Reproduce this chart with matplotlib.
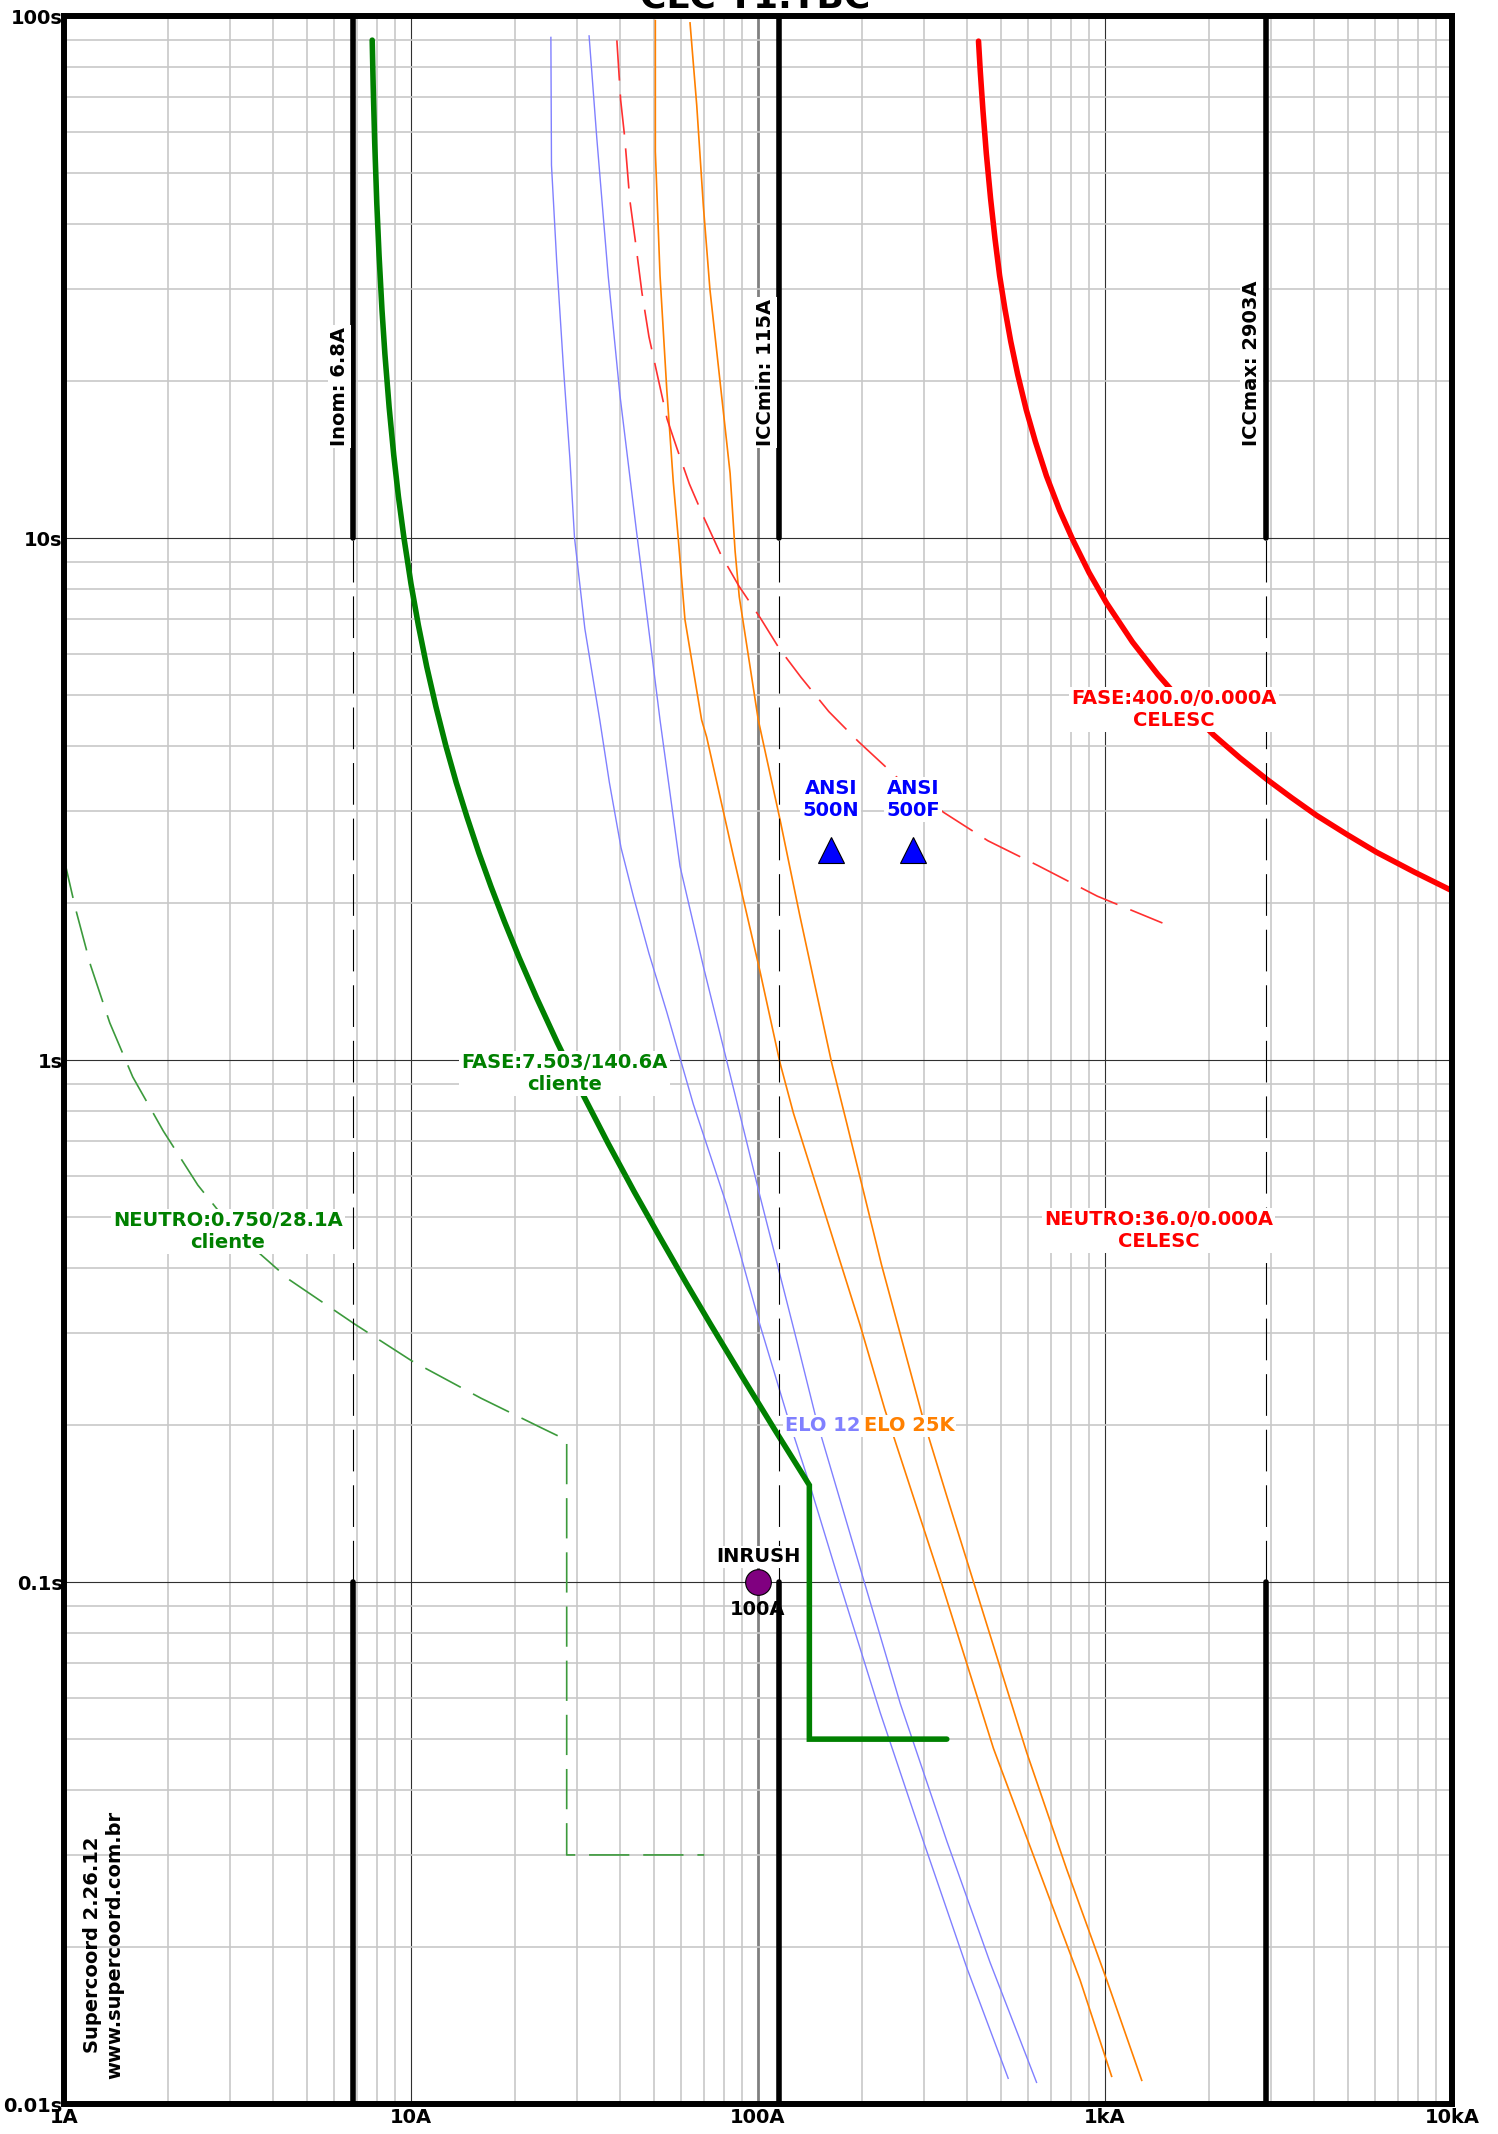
import matplotlib.pyplot as plt
import numpy as np
from matplotlib.ticker import LogLocator, NullFormatter

plt.rcParams['font.family'] = ['DejaVu Sans']
plt.rcParams['font.weight'] = 'bold'
plt.rcParams['lines.scale_dashes'] = False

# Relé do cliente - fase (7.503 A / instantâneo 140.6 A)
fase_cli_I = [7.73, 7.78, 7.86, 7.97, 8.09, 8.25, 8.41, 8.65, 8.92, 9.2, 9.55, 10.0, 10.5,
              11.1, 11.8, 12.6, 13.5, 14.5, 15.7, 17.0, 18.6, 20.5, 23.0, 26.4, 31.0, 37.0,
              44.0, 52.2, 62.0, 73.0, 90, 112, 140.6, 140.6, 350]
fase_cli_t = [89.9, 73.7, 57.2, 43.7, 34.8, 27.3, 22.5, 17.8, 14.4, 12.0, 9.97, 8.17, 6.81,
              5.67, 4.75, 4.00, 3.40, 2.92, 2.49, 2.15, 1.84, 1.57, 1.317, 1.08, 0.869, 0.692,
              0.559, 0.457, 0.3745, 0.3116, 0.2474, 0.1953, 0.1533, 0.05, 0.05]

# Relé do cliente - neutro (0.750 A / instantâneo 28.1 A)
neu_cli_I = [1.0, 1.078, 1.193, 1.355, 1.578, 1.933, 2.43, 3.13, 4.47, 6.88, 10.07,
             15.9, 23.9, 28.1, 28.1, 70]
neu_cli_t = [2.43, 1.956, 1.518, 1.178, 0.928, 0.731, 0.576, 0.467, 0.379, 0.312, 0.265,
             0.225, 0.197, 0.187, 0.03, 0.03]

# CELESC - fase (400 A)
fase_cel_I = [432, 437, 445, 455, 468, 482, 497, 515, 535, 560, 593, 630, 678, 740, 810,
              900, 1011, 1200, 1422, 1700, 2051, 2450, 2925, 3450, 4075, 5000, 6065, 7800, 10000]
fase_cel_t = [89.5, 78.5, 65.8, 54.5, 44.7, 37.4, 31.8, 27.4, 23.8, 20.6, 17.6, 15.3, 13.15, 11.3, 9.88,
              8.58, 7.5, 6.32, 5.47, 4.78, 4.2, 3.79, 3.45, 3.18, 2.94, 2.70, 2.50, 2.29, 2.11]

# CELESC - neutro (36 A)
neu_cel_I = [39.2, 40.2, 41.3, 42.7, 44.4, 46.3, 48.5, 51.3, 54.7, 58.5, 63.4, 70, 78.0,
             88, 101.8, 115, 133, 160, 195, 255, 343, 460, 639, 950, 1464]
neu_cel_t = [89.8, 69, 58.5, 44.5, 36.7, 29.5, 24.3, 20.5, 16.9, 14.8, 12.7, 10.9, 9.32,
             8.1, 7.01, 6.15, 5.41, 4.65, 4.07, 3.45, 2.98, 2.63, 2.36, 2.06, 1.83]

# Elo fusível 12K (mínima fusão e interrupção total)
elo12_min_I = [25.3, 25.4, 26.3, 27.5, 28.7, 29.6, 31.7, 35.0, 37.3, 40.3, 43.8, 48.5,
               54.6, 65.1, 81.3, 101.3, 121, 141, 172, 225, 300, 399, 526]
elo12_min_t = [91, 51.8, 33.8, 21.2, 14.2, 10.0, 6.7, 4.48, 3.4, 2.55, 2.05, 1.6,
               1.235, 0.823, 0.527, 0.311, 0.21, 0.1535, 0.0995, 0.0562, 0.0318, 0.0183, 0.0112]
elo12_max_I = [32.6, 34.3, 37.0, 40.0, 44.7, 52.2, 59.6, 69.6, 81.2, 101.3, 129.8, 147.5,
               201, 257, 350, 466, 635]
elo12_max_t = [91.6, 58.5, 31.8, 18.8, 10.24, 4.48, 2.35, 1.51, 0.998, 0.549, 0.287, 0.204,
               0.1016, 0.0585, 0.0319, 0.0187, 0.011]

# Elo fusível 25K
elo25_min_I = [50.6, 50.6, 52.2, 54.6, 57.0, 58.9, 61.6, 68.8, 71.1, 84.9, 101.3, 115.7,
               126.5, 157.8, 196.8, 232, 268, 338, 477, 679, 847, 1045]
elo25_min_t = [98, 55, 31.8, 19.2, 12.8, 10.0, 6.97, 4.48, 4.16, 2.46, 1.48, 0.988,
               0.791, 0.496, 0.311, 0.214, 0.1596, 0.0995, 0.048, 0.0256, 0.0173, 0.0113]
elo25_max_I = [63.7, 66.6, 69.6, 72.7, 77.7, 83.1, 85.9, 88.3, 100.2, 115.7, 132, 163,
               180, 227, 300, 350, 418, 595, 775, 1011, 1276]
elo25_max_t = [97, 67.4, 43.2, 29.9, 20.0, 13.3, 9.44, 7.72, 4.48, 2.89, 1.89, 0.988,
               0.759, 0.405, 0.204, 0.146, 0.1, 0.0471, 0.0282, 0.0173, 0.0111]

# Correntes de referência
ref_nomes = ["Inom: 6.8A", "ICCmin: 115A", "ICCmax: 2903A"]
ref_correntes = [6.8, 115, 2903]

# Pontos ANSI 50
ansi_nomes = ["ANSI\n500N", "ANSI\n500F"]
ansi_correntes = [162, 280]
ansi_tempos = [2.52, 2.52]

# Ponto de inrush
inrush_corrente = 100
inrush_tempo = 0.1

x_ticks = [1, 10, 100, 1000, 10000]
x_labels = ["1A", "10A", "100A", "1kA", "10kA"]
y_ticks = [0.01, 0.1, 1, 10, 100]
y_labels = ["0.01s", "0.1s", "1s", "10s", "100s"]

fig = plt.figure(figsize=(14.98, 21.34), dpi=100)
ax = fig.add_axes([64 / 1498, 30 / 2134, 1388 / 1498, 2088 / 2134])
ax.set_xscale('log')
ax.set_yscale('log')
ax.set_xlim(1, 10000)
ax.set_ylim(0.01, 100)

# Grade logarítmica
ax.set_xticks(x_ticks, x_labels)
ax.set_yticks(y_ticks, y_labels)
ax.xaxis.set_minor_locator(LogLocator(base=10, subs=np.arange(2, 10)))
ax.yaxis.set_minor_locator(LogLocator(base=10, subs=np.arange(2, 10)))
ax.xaxis.set_minor_formatter(NullFormatter())
ax.yaxis.set_minor_formatter(NullFormatter())
ax.grid(which='minor', color='#c8c8c8', lw=1.2)
ax.grid(which='major', color='#303030', lw=0.8)
ax.get_xgridlines()[2].set_color('#808080')
ax.get_xgridlines()[2].set_linewidth(2)
ax.set_axisbelow(True)
ax.tick_params(which='both', length=0)
ax.tick_params(axis='x', labelsize=14, pad=3)
ax.tick_params(axis='y', labelsize=14, pad=1)
for lab in ax.get_xticklabels() + ax.get_yticklabels():
    lab.set_fontweight('bold')
for s in ax.spines.values():
    s.set_linewidth(4.3)
    s.set_zorder(10)

caixa = dict(boxstyle='square,pad=0.1', fc='white', ec='none')

# Linhas de referência: cheias fora da faixa 0.1s-10s, tracejadas dentro
for I, nome in zip(ref_correntes, ref_nomes):
    ax.plot([I, I], [10, 100], color='black', lw=4, solid_capstyle='round', zorder=4)
    ax.plot([I, I], [0.01, 0.1], color='black', lw=4, solid_capstyle='round', zorder=4)
    ax.plot([I, I], [0.1, 10], color='black', lw=0.8, dashes=(30, 10), zorder=4)
    ax.annotate(nome, (I, 15), xytext=(-3, 0), textcoords='offset points', rotation=90,
                ha='right', va='bottom', fontsize=14, fontweight='bold', bbox=caixa, zorder=6)

# Elos fusíveis
ax.plot(elo12_min_I, elo12_min_t, color='#8080ff', lw=1.0, zorder=3)
ax.plot(elo12_max_I, elo12_max_t, color='#8080ff', lw=1.0, zorder=3)
ax.plot(elo25_min_I, elo25_min_t, color='#ff8000', lw=1.2, zorder=3)
ax.plot(elo25_max_I, elo25_max_t, color='#ff8000', lw=1.2, zorder=3)

# Curvas CELESC
ax.plot(fase_cel_I, fase_cel_t, color='red', lw=4, solid_capstyle='round', zorder=3)
ax.plot(neu_cel_I, neu_cel_t, color='#ff3030', lw=1.2, dashes=(29, 10), zorder=3)

# Curvas do cliente
ax.plot(fase_cli_I, fase_cli_t, color='#008000', lw=4, solid_capstyle='round',
        solid_joinstyle='miter', zorder=3)
ax.plot(neu_cli_I, neu_cli_t, color='#3c9a3c', lw=1.2, dashes=(29, 10), zorder=3)

# Pontos ANSI
ax.plot(ansi_correntes, ansi_tempos, '^', ms=18.5, mfc='blue', mec='black', mew=0.8,
        ls='none', zorder=5)
for I, t, nome in zip(ansi_correntes, ansi_tempos, ansi_nomes):
    ax.annotate(nome, (I, t), xytext=(0, 37), textcoords='offset points', ha='center',
                va='center', color='blue', fontsize=14, fontweight='bold', bbox=caixa, zorder=6)

# Inrush
ax.plot([inrush_corrente], [inrush_tempo], 'o', ms=18.5, mfc='purple', mec='black',
        mew=0.8, zorder=5)
ax.annotate("INRUSH", (inrush_corrente, inrush_tempo), xytext=(0, 18),
            textcoords='offset points', ha='center', va='center', fontsize=14,
            fontweight='bold', bbox=caixa, zorder=6)
ax.annotate(f"{inrush_corrente}A", (inrush_corrente, inrush_tempo), xytext=(0, -20),
            textcoords='offset points', ha='center', va='center', fontsize=14,
            fontweight='bold', zorder=6)

# Rótulos das curvas
ax.text(27.7, 0.942, "FASE:7.503/140.6A\ncliente", color='#008000', ha='center',
        va='center', fontsize=14, fontweight='bold', bbox=caixa, zorder=6)
ax.text(2.97, 0.470, "NEUTRO:0.750/28.1A\ncliente", color='#008000', ha='center',
        va='center', fontsize=14, fontweight='bold', bbox=caixa, zorder=6)
ax.text(1580, 4.69, "FASE:400.0/0.000A\nCELESC", color='red', ha='center',
        va='center', fontsize=14, fontweight='bold', bbox=caixa, zorder=6)
ax.text(1430, 0.4715, "NEUTRO:36.0/0.000A\nCELESC", color='red', ha='center',
        va='center', fontsize=14, fontweight='bold', bbox=caixa, zorder=6)
ax.text(119.6, 0.199, "ELO 12K", color='#8080ff', ha='left', va='center',
        fontsize=14, fontweight='bold', bbox=caixa, zorder=6)
ax.text(202, 0.199, "ELO 25K", color='#ff8000', ha='left', va='center',
        fontsize=14, fontweight='bold', bbox=caixa, zorder=7)

# Assinatura do programa
ax.text(0.0288, 0.0761, "Supercoord 2.26.12\nwww.supercoord.com.br", transform=ax.transAxes,
        rotation=90, ha='center', va='center', multialignment='center', fontsize=14,
        fontweight='bold', zorder=6)

# Título (cortado na borda superior)
fig.text(0.504, 1 - 8 / 2134, "CLC T1.TBC", ha='center', va='baseline', fontsize=26,
         fontweight='bold')

fig.savefig("out.png", dpi=100)
